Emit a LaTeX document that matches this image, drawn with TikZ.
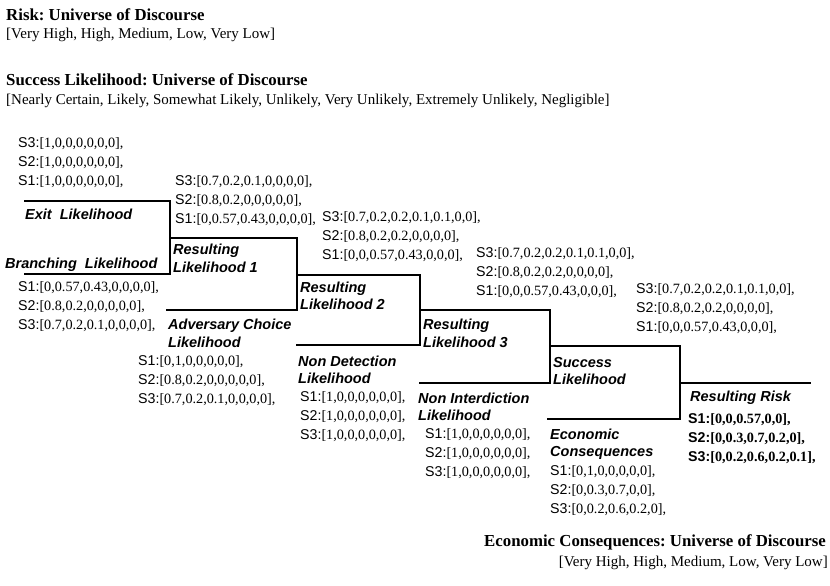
\documentclass[tikz,border=0pt]{standalone}
\usepackage{fontspec}
\setmainfont{Liberation Serif}
\setsansfont{Liberation Sans}
\frenchspacing
\newcommand\slbl[2]{{\sffamily #1:}#2}
\newcommand\sblb[2]{{\sffamily\bfseries #1:}{\bfseries #2}}
\begin{document}
\begin{tikzpicture}[x=1pt,y=-1pt,
  ttl/.style={anchor=west,inner sep=0pt,font=\fontsize{16.8}{20}\selectfont\bfseries},
  uod/.style={anchor=west,inner sep=0pt,font=\fontsize{15}{18}\selectfont},
  slab/.style={anchor=west,inner sep=0pt,font=\fontsize{14.2}{16}\selectfont},
  blab/.style={anchor=west,inner sep=0pt,align=left,font=\fontsize{14.5}{17.5}\selectfont\sffamily\bfseries\itshape},
  ln/.style={line width=1.6pt,line cap=rect}]
\useasboundingbox (0,0) rectangle (830,586);
% titles
\node[ttl] (t1) at (6,15) {Risk: Universe of Discourse};
\node[uod] (u1) at (6,35) {[Very High, High, Medium, Low, Very Low]};
\node[ttl] (t2) at (6,80) {Success Likelihood: Universe of Discourse};
\node[uod] (u2) at (6,101) {[Nearly Certain, Likely, Somewhat Likely, Unlikely, Very Unlikely, Extremely Unlikely, Negligible]};
\node[ttl,anchor=east] (t3) at (826,542) {Economic Consequences: Universe of Discourse};
\node[uod,anchor=east] (u3) at (828,563) {[Very High, High, Medium, Low, Very Low]};
% staircase coordinates
\coordinate (e0) at (25,201); \coordinate (e1) at (170,201);
\coordinate (b0) at (25,274); \coordinate (b1) at (170,274);
\coordinate (r1a) at (170,238); \coordinate (r1b) at (297,238);
\coordinate (a0) at (167,310); \coordinate (a1) at (297,310);
\coordinate (r2a) at (297,275); \coordinate (r2b) at (420,275);
\coordinate (n0) at (297,345); \coordinate (n1) at (420,345);
\coordinate (r3a) at (420,310); \coordinate (r3b) at (550,310);
\coordinate (i0) at (420,383); \coordinate (i1) at (550,383);
\coordinate (s0) at (550,346); \coordinate (s1) at (680,346);
\coordinate (c0) at (548,419); \coordinate (c1) at (680,419);
\coordinate (k0) at (680,383); \coordinate (k1) at (810,383);
\draw[ln] (e0) -- (e1) -- (b1);
\draw[ln] (b0) -- (b1);
\draw[ln] (r1a) -- (r1b) -- (a1);
\draw[ln] (a0) -- (a1);
\draw[ln] (r2a) -- (r2b) -- (n1);
\draw[ln] (n0) -- (n1);
\draw[ln] (r3a) -- (r3b) -- (i1);
\draw[ln] (i0) -- (i1);
\draw[ln] (s0) -- (s1) -- (c1);
\draw[ln] (c0) -- (c1);
\draw[ln] (k0) -- (k1);
% Exit likelihood
\node[slab] (x3) at (18,144) {\slbl{S3}{[1,0,0,0,0,0,0],}};
\node[slab] (x2) at (18,163) {\slbl{S2}{[1,0,0,0,0,0,0],}};
\node[slab] (x1) at (18,182) {\slbl{S1}{[1,0,0,0,0,0,0],}};
\node[blab] (xl) at (25,214) {Exit\ \ Likelihood};
% Resulting likelihood 1
\node[slab] (p3) at (175,182) {\slbl{S3}{[0.7,0.2,0.1,0,0,0,0],}};
\node[slab] (p2) at (175,201) {\slbl{S2}{[0.8,0.2,0,0,0,0,0],}};
\node[slab] (p1) at (175,220) {\slbl{S1}{[0,0.57,0.43,0,0,0,0],}};
\node[blab] (pl) at (173,258.5) {Resulting\\Likelihood 1};
% Branching
\node[blab] (bl) at (5,265) {Branching\ \ Likelihood};
\node[slab] (g1) at (18,288) {\slbl{S1}{[0,0.57,0.43,0,0,0,0],}};
\node[slab] (g2) at (18,307) {\slbl{S2}{[0.8,0.2,0,0,0,0,0],}};
\node[slab] (g3) at (18,326) {\slbl{S3}{[0.7,0.2,0.1,0,0,0,0],}};
% Resulting likelihood 2
\node[slab] (q3) at (322,218) {\slbl{S3}{[0.7,0.2,0.2,0.1,0.1,0,0],}};
\node[slab] (q2) at (322,237) {\slbl{S2}{[0.8,0.2,0.2,0,0,0,0],}};
\node[slab] (q1) at (322,256) {\slbl{S1}{[0,0,0.57,0.43,0,0,0],}};
\node[blab] (ql) at (300,296) {Resulting\\Likelihood 2};
% Adversary choice
\node[blab] (al) at (168,333.5) {Adversary Choice\\Likelihood};
\node[slab] (d1) at (138,362) {\slbl{S1}{[0,1,0,0,0,0,0],}};
\node[slab] (d2) at (138,381) {\slbl{S2}{[0.8,0.2,0,0,0,0,0],}};
\node[slab] (d3) at (138,400) {\slbl{S3}{[0.7,0.2,0.1,0,0,0,0],}};
% Resulting likelihood 3
\node[slab] (w3) at (476,254) {\slbl{S3}{[0.7,0.2,0.2,0.1,0.1,0,0],}};
\node[slab] (w2) at (476,273) {\slbl{S2}{[0.8,0.2,0.2,0,0,0,0],}};
\node[slab] (w1) at (476,292) {\slbl{S1}{[0,0,0.57,0.43,0,0,0],}};
\node[blab] (wl) at (423,333.5) {Resulting\\Likelihood 3};
% Non detection
\node[blab] (ndl) at (298,370) {Non Detection\\Likelihood};
\node[slab] (nd1) at (300,398) {\slbl{S1}{[1,0,0,0,0,0,0],}};
\node[slab] (nd2) at (300,417) {\slbl{S2}{[1,0,0,0,0,0,0],}};
\node[slab] (nd3) at (300,436) {\slbl{S3}{[1,0,0,0,0,0,0],}};
% Success likelihood
\node[slab] (v3) at (636,290) {\slbl{S3}{[0.7,0.2,0.2,0.1,0.1,0,0],}};
\node[slab] (v2) at (636,309) {\slbl{S2}{[0.8,0.2,0.2,0,0,0,0],}};
\node[slab] (v1) at (636,328) {\slbl{S1}{[0,0,0.57,0.43,0,0,0],}};
\node[blab] (vl) at (553,371) {Success\\Likelihood};
% Non interdiction
\node[blab] (nil) at (418,407) {Non Interdiction\\Likelihood};
\node[slab] (ni1) at (425,435) {\slbl{S1}{[1,0,0,0,0,0,0],}};
\node[slab] (ni2) at (425,454) {\slbl{S2}{[1,0,0,0,0,0,0],}};
\node[slab] (ni3) at (425,473) {\slbl{S3}{[1,0,0,0,0,0,0],}};
% Economic consequences
\node[blab] (ecl) at (550,444) {Economic\\Consequences};
\node[slab] (ec1) at (550,472) {\slbl{S1}{[0,1,0,0,0,0,0],}};
\node[slab] (ec2) at (550,491) {\slbl{S2}{[0,0.3,0.7,0,0],}};
\node[slab] (ec3) at (550,510) {\slbl{S3}{[0,0.2,0.6,0.2,0],}};
% Resulting risk
\node[blab] (rrl) at (690,398) {Resulting Risk};
\node[slab] (rr1) at (688,420) {\sblb{S1}{[0,0,0.57,0,0],}};
\node[slab] (rr2) at (688,439) {\sblb{S2}{[0,0.3,0.7,0.2,0],}};
\node[slab] (rr3) at (688,458) {\sblb{S3}{[0,0.2,0.6,0.2,0.1],}};
\end{tikzpicture}
\end{document}
